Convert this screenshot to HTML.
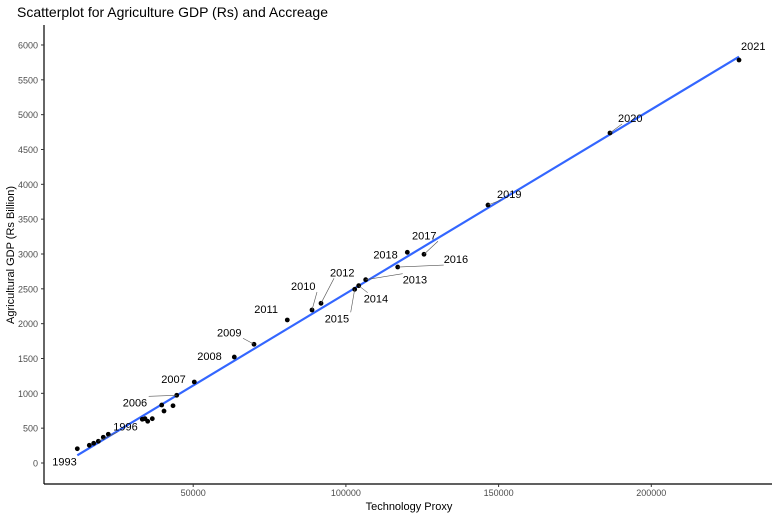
<!DOCTYPE html>
<html><head><meta charset="utf-8"><style>
body{margin:0;background:#fff;font-family:"Liberation Sans",sans-serif}
svg text{font-family:"Liberation Sans",sans-serif}
</style></head><body>
<svg id="chart" width="778" height="518" viewBox="0 0 778 518">
<text x="17" y="17" font-size="14" fill="#000">Scatterplot for Agriculture GDP (Rs) and Accreage</text>
<g id="axes"></g><g id="marks"></g>
<text x="409" y="510" font-size="11" text-anchor="middle">Technology Proxy</text>
<text transform="translate(14,255) rotate(-90)" font-size="11" text-anchor="middle">Agricultural GDP (Rs Billion)</text>
</svg>
<script>
const years=[1993,1994,1995,1996,1997,1998,1999,2000,2001,2002,2003,2004,2005,2006,2007,2008,2009,2010,2011,2012,2013,2014,2015,2016,2017,2018,2019,2020,2021];
const xVals=[12050,15980,17420,18930,20560,22200,33330,34220,35100,36610,39690,40440,43390,44600,50360,63460,69910,88900,80810,91850,106480,104190,102880,116960,125570,120110,146520,186470,228720];
const yVals=[205,254,283,312,370,413,628,636,599,636,832,746,822,972,1163,1521,1704,2196,2053,2292,2631,2545,2493,2813,2996,3024,3703,4737,5784];
const xTicks=[50000,100000,150000,200000];
const yTicks=[0,500,1000,1500,2000,2500,3000,3500,4000,4500,5000,5500,6000];
const labelYears=[1993,1996,2006,2007,2008,2009,2010,2011,2012,2013,2014,2015,2016,2017,2018,2019,2020,2021];
const labelDx=[-25,15,-54,-33,-37,-37,-21,-33,9,37,5,-30,46,-12,-34,9,8,2];
const labelDy=[17,-11,11,1,3,-8,-20,-7,-27,4,17,33,-4,-15,6,-7,-11,-10];
const labelLine=[0,1,1,0,0,1,1,0,1,1,1,1,1,1,0,1,1,0];
const ns="http://www.w3.org/2000/svg";
const sx=v=>40.5+v*0.003054, sy=v=>463-v*0.06967;
function mk(t,a,p){const e=document.createElementNS(ns,t);for(const k in a)e.setAttribute(k,a[k]);p.appendChild(e);return e;}
const ax=document.getElementById('axes'), mg=document.getElementById('marks');
let l=mk('line',{x1:44,y1:25,x2:44,y2:484,stroke:'#000','stroke-width':1.2},ax);


l=mk('line',{x1:44,y1:484,x2:772,y2:484,stroke:'#000','stroke-width':1.2},ax);


yTicks.forEach(v=>{const y=sy(v);
 mk('line',{x1:41,y1:y,x2:44,y2:y,stroke:'#333'},ax);
 const t=mk('text',{x:38,y:y+3.5,'font-size':9,fill:'#4d4d4d','text-anchor':'end'},ax);t.textContent=v;
 
 });
xTicks.forEach(v=>{const x=sx(v);
 mk('line',{x1:x,y1:484,x2:x,y2:487,stroke:'#333'},ax);
 const t=mk('text',{x:x,y:496,'font-size':9,fill:'#4d4d4d','text-anchor':'middle'},ax);t.textContent=v;
 
 });
const n=xVals.length;let mx=0,my=0;xVals.forEach((v,i)=>{mx+=v;my+=yVals[i]});mx/=n;my/=n;
let sxy=0,sxx=0;xVals.forEach((v,i)=>{sxy+=(v-mx)*(yVals[i]-my);sxx+=(v-mx)*(v-mx)});
const b=sxy/sxx,a=my-b*mx;const x0=Math.min(...xVals),x1=Math.max(...xVals);
l=mk('line',{x1:sx(x0),y1:sy(a+b*x0),x2:sx(x1),y2:sy(a+b*x1),stroke:'#3366ff','stroke-width':2.2},mg);


xVals.forEach((v,i)=>{const c=mk('circle',{cx:sx(v),cy:sy(yVals[i]),r:2.4,fill:'#000'},mg);
 
 });
labelYears.forEach((yr,j)=>{const i=years.indexOf(yr);const px=sx(xVals[i]),py=sy(yVals[i]);
 const tx=px+labelDx[j],ty=py+labelDy[j];
 if(labelLine[j]){
  const ex=labelDx[j]<0?tx+26:tx+(labelDx[j]>20?0:4);
  const ey=labelDy[j]<0?ty+2:ty-10;
  mk('line',{x1:px,y1:py,x2:ex,y2:ey,stroke:'#555','stroke-width':0.6},mg);}
 const t=mk('text',{x:tx,y:ty,'font-size':11,fill:'#000'},mg);
 t.textContent=yr;
 
 });
</script>
</body></html>
